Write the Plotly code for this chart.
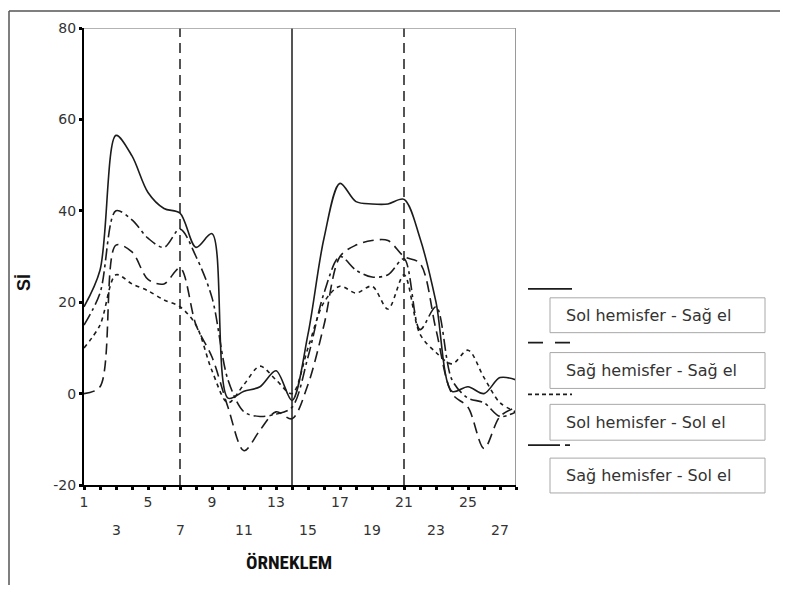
import plotly.graph_objects as go

# ---------------- data ----------------
orneklem = list(range(1, 29))

sol_hem_sag_el = [19, 27, 56.5, 52, 44, 40.5, 39.5, 32, 35, -1, 0.5, 1.5, 5, -1.5,
                  13, 34, 46, 42, 41.5, 41.5, 42.5, 34, 20, 0.5, 1.5, 0, 3.5, 3]
sag_hem_sag_el = [0, 1.5, 32.5, 31, 25, 24, 27.5, 15, 8, -3, -12.5, -8, -4, -5.5,
                  2, 15, 30, 32.5, 33.5, 33.5, 30, 28.5, 14, 0, -3, -12, -5, -3]
sol_hem_sol_el = [10, 15, 26, 24, 22.5, 20.5, 19, 15, 5, -2, 2, 6, 3, 0,
                  10, 20, 23.5, 22, 23.5, 18.5, 26, 13, 9, 6.5, 9.5, 3.5, -2, -4]
sag_hem_sol_el = [15, 22, 40, 38, 34, 32, 36, 30, 21, 3, -4, -5, -4.5, -3,
                  8, 22, 30, 27, 25.5, 26, 29.5, 14, 19, 3, -1, -2, -5, -4]

series_names = ["Sol hemisfer - Sağ el", "Sağ hemisfer - Sağ el",
                "Sol hemisfer - Sol el", "Sağ hemisfer - Sol el"]
series_values = [sol_hem_sag_el, sag_hem_sag_el, sol_hem_sol_el, sag_hem_sol_el]
series_dash = ["solid", "11px,6px", "4px,4px", "12px,4px,3px,4px"]
legend_dash = ["solid", "15px,12px", "4px,3px", "32px,5px,5px,20px"]

y_ticks = [-20, 0, 20, 40, 60, 80]
y_ticktext = ["-20", "0", "20", "40", "60", "80"]
x_row1 = [1, 5, 9, 13, 17, 21, 25]
x_row2 = [3, 7, 11, 15, 19, 23, 27]
phase_lines = [(7, "10px,6px"), (14, "solid"), (21, "10px,6px")]

# ---------------- geometry (page pixels; page body has 8px margin) ----------------
OFF = 8
L, R, T, B = 84, 516, 26, 485          # plot area in page pixels
W, H = 788 - 2 * OFF, 593 - 2 * OFF    # figure size so the page does not overflow


def px(xp):
    return (xp - L) / (R - L)


def py(yp):
    return (B - yp) / (B - T)


INK = "#1c1c1c"
TICKFONT = dict(family="DejaVu Sans, Arial, sans-serif", size=14, color="#333333")

fig = go.Figure()
for name, vals, dash in zip(series_names, series_values, series_dash):
    fig.add_trace(go.Scatter(
        x=orneklem, y=vals, mode="lines", name=name, showlegend=False,
        line=dict(color=INK, width=1.6, dash=dash, shape="spline", smoothing=0.9),
    ))

shapes = []
for xv, d in phase_lines:
    shapes.append(dict(type="line", xref="x", yref="y", x0=xv, x1=xv, y0=-20, y1=80,
                       line=dict(color=INK, width=1.5, dash=d)))
shapes.append(dict(type="line", xref="x", yref="y", x0=1, x1=28, y0=80, y1=80,
                   line=dict(color="#9a9a9a", width=1.5)))
shapes.append(dict(type="line", xref="x", yref="y", x0=28, x1=28, y0=-20, y1=80,
                   line=dict(color="#9a9a9a", width=2)))
# outer frame (left and top edges)
shapes.append(dict(type="line", xref="paper", yref="paper", x0=px(OFF + 1), x1=px(OFF + 1),
                   y0=py(OFF + 1), y1=py(700), line=dict(color="#555555", width=1.5)))
shapes.append(dict(type="line", xref="paper", yref="paper", x0=px(OFF + 1), x1=px(900),
                   y0=py(OFF + 1), y1=py(OFF + 1), line=dict(color="#555555", width=1.5)))

# custom legend
sample_y = [288, 342, 394, 445]
box_y = [(297, 332), (352, 388), (404, 440), (458, 493)]
annotations = []
for i, name in enumerate(series_names):
    shapes.append(dict(type="line", xref="paper", yref="paper", x0=px(528), x1=px(572),
                       y0=py(sample_y[i]), y1=py(sample_y[i]),
                       line=dict(color=INK, width=1.6, dash=legend_dash[i])))
    y0, y1 = box_y[i]
    shapes.append(dict(type="rect", xref="paper", yref="paper", x0=px(550), x1=px(765),
                       y0=py(y1), y1=py(y0), line=dict(color="#a8a8a8", width=1)))
    annotations.append(dict(xref="paper", yref="paper", x=px(564), y=py((y0 + y1) / 2),
                            text=name, showarrow=False, xanchor="left", yanchor="middle",
                            font=dict(family="DejaVu Sans, Arial, sans-serif", size=16,
                                      color="#333333")))

for xv in x_row2:
    annotations.append(dict(xref="x", yref="paper", x=xv, y=py(530), text=str(xv),
                            showarrow=False, xanchor="center", yanchor="middle",
                            font=TICKFONT))

annotations.append(dict(xref="paper", yref="paper", x=px(289), y=py(563), text="<b>ÖRNEKLEM</b>",
                        showarrow=False, xanchor="center", yanchor="middle",
                        font=dict(family="Liberation Sans Narrow, Roboto Condensed, Liberation Sans, Arial, sans-serif",
                                  size=19, color="#111111")))
annotations.append(dict(xref="paper", yref="paper", x=px(24), y=py(282), text="<b>Sİ</b>",
                        showarrow=False, textangle=-90, xanchor="center", yanchor="middle",
                        font=dict(family="Liberation Sans, Arial, sans-serif", size=18,
                                  color="#111111")))

fig.update_layout(
    width=W, height=H,
    margin=dict(l=L - OFF, r=W - (R - OFF), t=T - OFF, b=H - (B - OFF), pad=0),
    paper_bgcolor="white", plot_bgcolor="white",
    shapes=shapes, annotations=annotations,
    xaxis=dict(range=[1, 28], tickvals=orneklem,
               ticktext=[str(v) if v in x_row1 else "" for v in orneklem],
               showgrid=False, zeroline=False, showline=True, linecolor="black", linewidth=2,
               ticks="outside", ticklen=3, tickwidth=3, tickcolor="black",
               tickfont=TICKFONT, fixedrange=True),
    yaxis=dict(range=[-20, 80], tickvals=y_ticks, ticktext=y_ticktext,
               showgrid=False, zeroline=False, showline=True, linecolor="black", linewidth=2,
               ticks="outside", ticklen=3, tickwidth=3, tickcolor="black",
               tickfont=TICKFONT, fixedrange=True),
    showlegend=False,
)

fig.write_html("out.html")
